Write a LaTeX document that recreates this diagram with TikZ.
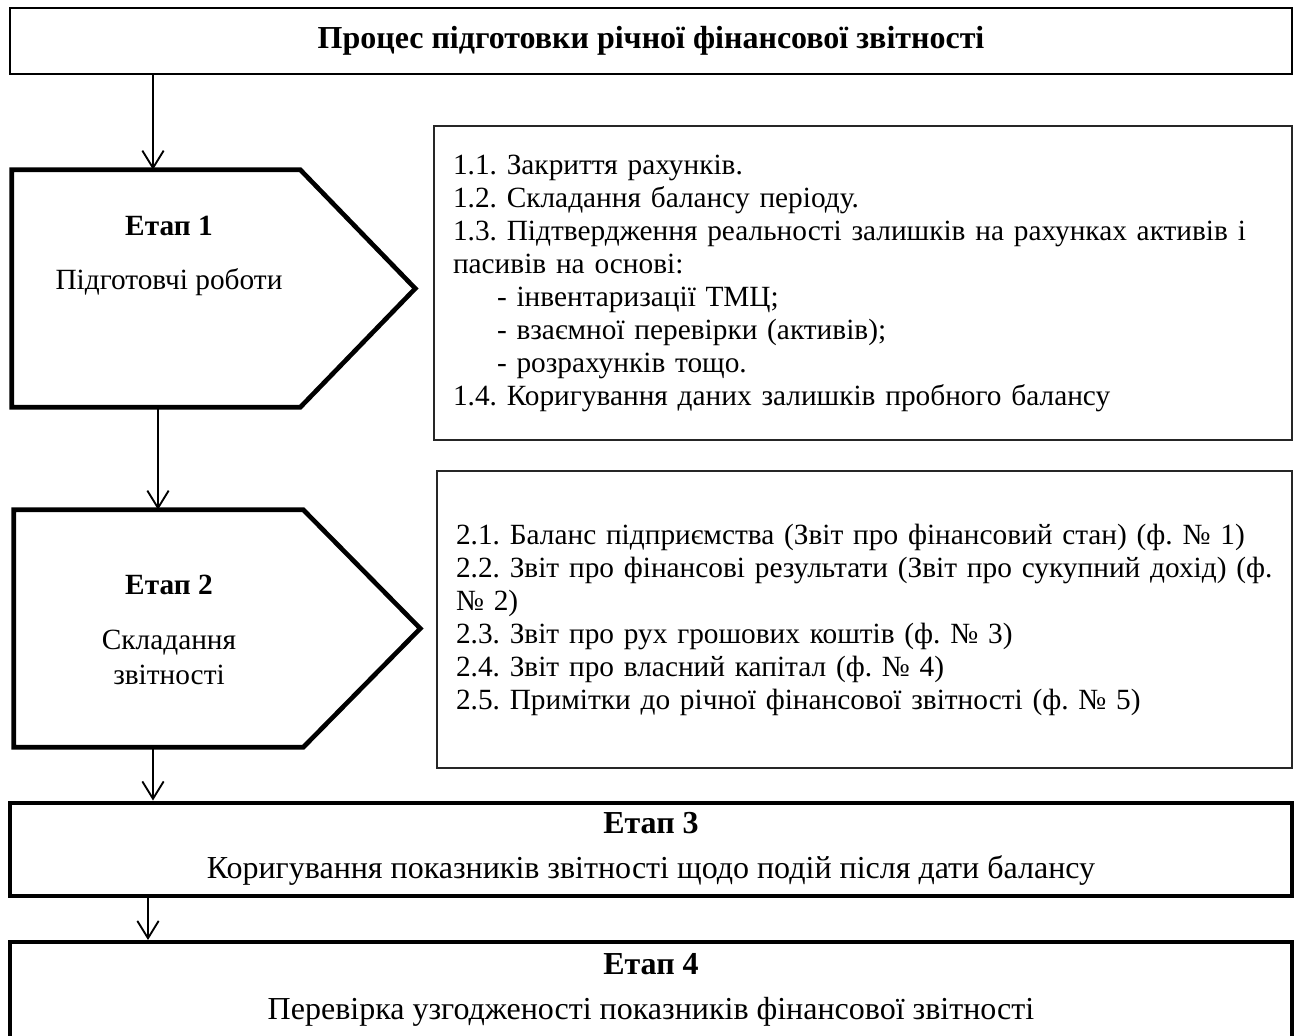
\documentclass[tikz,border=0pt]{standalone}
\usepackage{fontspec}
\setmainfont{Liberation Serif}
\usetikzlibrary{arrows.meta, positioning}

\begin{document}
\frenchspacing
\fontsize{22}{24.75}\selectfont
\begin{tikzpicture}[
    x=0.75pt, y=-0.75pt,
    titlebox/.style={rectangle, draw, line width=1.1pt, minimum width=961.5pt, minimum height=49.5pt, font=\fontsize{24}{28}\selectfont},
    stagebox/.style={rectangle, draw, line width=3pt, minimum width=961.5pt, align=center, font=\fontsize{24}{28}\selectfont},
    frame/.style={rectangle, inner sep=0pt},
    stageline/.style={draw, line width=3.5pt, line join=miter},
    stagetext/.style={align=center, inner sep=0pt, font=\fontsize{22}{26}\selectfont},
    listbox/.style={rectangle, draw=black!85, line width=1.1pt, inner xsep=14.25pt, inner ysep=0pt, align=left},
    line/.style={draw, -{Straight Barb[length=13pt,width=16pt]}, line width=1.4pt}
]
    \useasboundingbox (0,0) rectangle (1294,1035);

    \node [titlebox] (title) at (651,41) {\textbf{Процес підготовки річної фінансової звітності}};

    % stage 1
    \node [frame, minimum width=302.25pt, minimum height=177.75pt] (stage1) at (213.5,288.5) {};
    \path [stageline] (stage1.north west) -- ([xshift=-86.25pt]stage1.north east) -- (stage1.east)
        -- ([xshift=-86.25pt]stage1.south east) -- (stage1.south west) -- cycle;
    \node [stagetext] (stage1txt) at (169,256) {\textbf{Етап 1}\\[15pt]Підготовчі роботи};

    \node [listbox, text width=615pt, minimum height=235.5pt] (tasks1) at (863,283) {%
        1.1. Закриття рахунків.\\
        1.2. Складання балансу періоду.\\
        1.3. Підтвердження реальності залишків на рахунках активів і\\
        пасивів на основі:\\
        \hspace*{33pt}- інвентаризації ТМЦ;\\
        \hspace*{33pt}- взаємної перевірки (активів);\\
        \hspace*{33pt}- розрахунків тощо.\\
        1.4. Коригування даних залишків пробного балансу};

    % stage 2
    \node [frame, minimum width=304.5pt, minimum height=177.75pt] (stage2) at (217,628.5) {};
    \path [stageline] (stage2.north west) -- ([xshift=-87.75pt]stage2.north east) -- (stage2.east)
        -- ([xshift=-87.75pt]stage2.south east) -- (stage2.south west) -- cycle;
    \node [stagetext] (stage2txt) at (169,630) {\textbf{Етап 2}\\[15pt]Складання\\звітності};

    \node [listbox, text width=612.75pt, minimum height=222.75pt] (tasks2) at (864.5,619.5) {%
        2.1. Баланс підприємства (Звіт про фінансовий стан) (ф. № 1)\\
        2.2. Звіт про фінансові результати (Звіт про сукупний дохід) (ф.\\
        № 2)\\
        2.3. Звіт про рух грошових коштів (ф. № 3)\\
        2.4. Звіт про власний капітал (ф. № 4)\\
        2.5. Примітки до річної фінансової звітності (ф. № 5)};

    % stages 3 and 4
    \node [stagebox, minimum height=67.5pt] (stage3) at (651,849) {\textbf{Етап 3}\\[6pt]Коригування показників звітності щодо подій після дати балансу};
    \node [stagebox, minimum height=72pt] (stage4) at (651,990) {\textbf{Етап 4}\\[6pt]Перевірка узгодженості показників фінансової звітності};

    \coordinate (a1) at (153,0);
    \coordinate (a2) at (158,0);
    \coordinate (a3) at (153,0);
    \coordinate (a4) at (148,0);

    \path [line] (title.south -| a1) -- (stage1.north -| a1);
    \path [line] (stage1.south -| a2) -- (stage2.north -| a2);
    \path [line] (stage2.south -| a3) -- (stage3.north -| a3);
    \path [line] (stage3.south -| a4) -- (stage4.north -| a4);
\end{tikzpicture}
\end{document}
